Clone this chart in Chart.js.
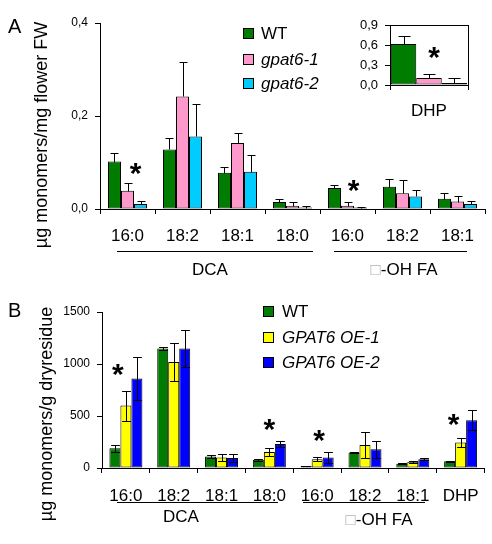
<!DOCTYPE html>
<html lang="en">
<head>
<meta charset="UTF-8" />
<title>GPAT6 cutin monomers</title>
<script src="https://cdn.jsdelivr.net/npm/chart.js@4.4.0/dist/chart.umd.min.js"></script>
<style>
  body { margin: 0; background: #fff; }
  #root { position: relative; width: 492px; height: 544px; }
  canvas { position: absolute; }
</style>
</head>
<body>
<div id="root">
  <canvas id="chartA" width="492" height="280" style="left:0;top:0"></canvas>
  <canvas id="chartB" width="492" height="264" style="left:0;top:280px"></canvas>
  <canvas id="chartInset" width="140" height="110" style="left:340px;top:10px"></canvas>
</div>
<script>
// ---- data ----
const aLabels = ["16:0", "18:2", "18:1", "18:0", "16:0", "18:2", "18:1"];
const aWt     = [0.102, 0.128, 0.078, 0.015, 0.045, 0.048, 0.022];
const aWtErr  = [0.019, 0.025, 0.013, 0.007, 0.007, 0.017, 0.012];
const aG1     = [0.039, 0.242, 0.142, 0.007, 0.007, 0.034, 0.016];
const aG1Err  = [0.017, 0.074, 0.022, 0.008, 0.008, 0.029, 0.011];
const aG2     = [0.011, 0.156, 0.080, 0.003, 0.003, 0.027, 0.011];
const aG2Err  = [0.006, 0.069, 0.037, 0.003, 0.002, 0.013, 0.007];

const insetLabels = ["DHP"];
const insetWt = [0.615], insetWtErr = [0.12];
const insetG1 = [0.105], insetG1Err = [0.06];
const insetG2 = [0.03],  insetG2Err = [0.07];

const bLabels  = ["16:0", "18:2", "18:1", "18:0", "16:0", "18:2", "18:1", "DHP"];
const bWt      = [190, 1150, 110, 80, 20, 150, 40, 65];
const bWtErr   = [35, 15, 15, 8, 4, 8, 5, 5];
const bOe1     = [600, 1020, 100, 155, 85, 220, 60, 245];
const bOe1Err  = [145, 180, 35, 35, 20, 125, 10, 45];
const bOe2     = [860, 1150, 95, 230, 100, 180, 85, 460];
const bOe2Err  = [210, 180, 35, 30, 50, 80, 10, 95];

const GREEN = "#007d00", PINK = "#ff99cc", CYAN = "#00ccff", YELLOW = "#ffff00", BLUE = "#0000ff";
const FONT = "'Liberation Sans', Arial, sans-serif";

// error bars, stars, labels, legends
const extras = {
  id: "extras",
  afterDatasetsDraw(chart, args, o) {
    const ctx = chart.ctx, ys = chart.scales.y;
    ctx.save();
    ctx.strokeStyle = "#000";
    ctx.lineWidth = 1;
    chart.data.datasets.forEach((ds, di) => {
      if (!ds.err) return;
      chart.getDatasetMeta(di).data.forEach((bar, i) => {
        const v = ds.data[i], e = ds.err[i];
        const x = Math.round(bar.x) + 0.5;
        const cap = o.cap != null ? o.cap : bar.width * 0.4;
        const yTop = Math.round(ys.getPixelForValue(v + e)) + 0.5;
        const yBar = Math.round(ys.getPixelForValue(v)) + 0.5;
        const yLow = Math.round(ys.getPixelForValue(Math.max(v - e, 0))) + 0.5;
        ctx.beginPath();
        if (o.errMode === "both") {
          ctx.moveTo(x, yLow); ctx.lineTo(x, yTop);
          ctx.moveTo(x - cap, yLow); ctx.lineTo(x + cap, yLow);
        } else {
          ctx.moveTo(x, yBar); ctx.lineTo(x, yTop);
        }
        ctx.moveTo(x - cap, yTop); ctx.lineTo(x + cap, yTop);
        ctx.stroke();
      });
    });
    ctx.restore();
  },
  afterDraw(chart, args, o) {
    const ctx = chart.ctx, oy = o.oy || 0, ox = o.ox || 0;
    ctx.save();
    if (o.frame) {
      const a = chart.chartArea;
      ctx.strokeStyle = "#000";
      ctx.lineWidth = 1;
      ctx.strokeRect(Math.round(a.left) + 0.5, Math.round(a.top) + 0.5, Math.round(a.right - a.left), Math.round(a.bottom - a.top));
    }
    (o.stars || []).forEach(s => {
      const x = chart.scales.x.getPixelForValue(s.i) + s.dx;
      const y = chart.scales.y.getPixelForValue(s.v);
      ctx.font = "bold 30px " + FONT;
      ctx.fillStyle = "#000";
      ctx.textAlign = "center";
      ctx.textBaseline = "alphabetic";
      ctx.fillText("*", x, y + 17);
    });
    (o.lines || []).forEach(l => {
      ctx.strokeStyle = "#000";
      ctx.lineWidth = 1;
      ctx.beginPath();
      ctx.moveTo(l[0] - ox, l[1] - oy + 0.5);
      ctx.lineTo(l[2] - ox, l[1] - oy + 0.5);
      ctx.stroke();
    });
    (o.boxes || []).forEach(b => {
      ctx.fillStyle = b.c;
      ctx.fillRect(b.x - ox, b.y - oy, 11, 11);
      ctx.strokeStyle = "#000";
      ctx.strokeRect(b.x - ox + 0.5, b.y - oy + 0.5, 10, 10);
    });
    (o.texts || []).forEach(t => {
      ctx.save();
      ctx.font = (t.style || "") + " " + t.size + "px " + FONT;
      ctx.fillStyle = t.color || "#000";
      ctx.textAlign = t.align || "left";
      ctx.textBaseline = "middle";
      ctx.translate(t.x - ox, t.y - oy);
      if (t.rot) ctx.rotate(-Math.PI / 2);
      if (t.omega) {
        // missing-glyph box followed by the rest of the label
        const w1 = ctx.measureText("\u25A1").width;
        const w2 = ctx.measureText(t.t).width;
        ctx.textAlign = "left";
        ctx.fillStyle = "#b0b0b0";
        ctx.fillText("\u25A1", -(w1 + w2) / 2, 0);
        ctx.fillStyle = "#000";
        ctx.fillText(t.t, -(w1 + w2) / 2 + w1, 0);
      } else {
        ctx.fillText(t.t, 0, 0);
      }
      ctx.restore();
    });
    ctx.restore();
  }
};
Chart.register(extras);

const bar = (data, err, color) => ({
  data, err, backgroundColor: color, borderColor: "#000", borderWidth: 1, borderSkipped: false
});

const axisY = (min, max, step, size, fmt, width) => ({
  min, max,
  afterFit: s => { s.width = width; },
  ticks: { stepSize: step, color: "#000", padding: 7, font: { family: FONT, size }, callback: fmt },
  grid: { drawOnChartArea: false, tickLength: 5, color: "#000" },
  border: { color: "#000", width: 1 }
});
const axisX = (height, size, pad) => ({
  afterFit: s => { s.height = height; },
  ticks: { color: "#000", padding: pad, font: { family: FONT, size }, maxRotation: 0, autoSkip: false },
  grid: { offset: true, drawOnChartArea: false, tickLength: 5, color: "#000" },
  border: { color: "#000", width: 1 }
});
const comma = v => v.toFixed(1).replace(".", ",");

const base = {
  responsive: false,
  animation: false,
  devicePixelRatio: 1,
  plugins: { legend: { display: false }, tooltip: { enabled: false } }
};

new Chart(document.getElementById("chartA"), {
  type: "bar",
  data: {
    labels: aLabels,
    datasets: [bar(aWt, aWtErr, GREEN), bar(aG1, aG1Err, PINK), bar(aG2, aG2Err, CYAN)]
  },
  options: {
    ...base,
    layout: { padding: { top: 23, right: 7, left: 0, bottom: 0 } },
    datasets: { bar: { categoryPercentage: 0.71, barPercentage: 1 } },
    scales: { x: axisX(71, 17, 12), y: axisY(0, 0.4, 0.2, 12, comma, 100) },
    plugins: {
      ...base.plugins,
      extras: {
        errMode: "up", cap: 4,
        stars: [{ i: 0, dx: 8, v: 0.093 }, { i: 4, dx: 6, v: 0.056 }],
        lines: [[117, 251, 313], [334, 251, 467]],
        boxes: [{ x: 243, y: 28, c: GREEN }, { x: 243, y: 54, c: PINK }, { x: 243, y: 78, c: CYAN }],
        texts: [
          { t: "A", x: 8, y: 27, size: 20 },
          { t: "\u00b5g monomers/mg flower FW", x: 42, y: 135, size: 18, rot: true, align: "center" },
          { t: "DCA", x: 210, y: 270, size: 17, align: "center" },
          { t: "-OH FA", x: 404, y: 270, size: 17, omega: true },
          { t: "WT", x: 261, y: 34, size: 17 },
          { t: "gpat6-1", x: 261, y: 60, size: 17, style: "italic" },
          { t: "gpat6-2", x: 261, y: 84, size: 17, style: "italic" }
        ]
      }
    }
  }
});

new Chart(document.getElementById("chartInset"), {
  type: "bar",
  data: {
    labels: insetLabels,
    datasets: [bar(insetWt, insetWtErr, GREEN), bar(insetG1, insetG1Err, PINK), bar(insetG2, insetG2Err, CYAN)]
  },
  options: {
    ...base,
    layout: { padding: { top: 15, right: 12, left: 0, bottom: 0 } },
    datasets: { bar: { categoryPercentage: 0.98, barPercentage: 1 } },
    scales: { x: axisX(35, 17, 11), y: axisY(0, 0.9, 0.3, 13, comma, 50) },
    plugins: {
      ...base.plugins,
      extras: { errMode: "up", cap: 6, frame: true, stars: [{ i: 0, dx: 5, v: 0.525 }] }
    }
  }
});

new Chart(document.getElementById("chartB"), {
  type: "bar",
  data: {
    labels: bLabels,
    datasets: [bar(bWt, bWtErr, GREEN), bar(bOe1, bOe1Err, YELLOW), bar(bOe2, bOe2Err, BLUE)]
  },
  options: {
    ...base,
    layout: { padding: { top: 32, right: 7, left: 0, bottom: 0 } },
    datasets: { bar: { categoryPercentage: 0.69, barPercentage: 1 } },
    scales: { x: axisX(76, 17, 13), y: axisY(0, 1500, 500, 12, v => v, 102) },
    plugins: {
      ...base.plugins,
      extras: {
        errMode: "both", oy: 280,
        stars: [{ i: 0, dx: -8, v: 971 }, { i: 3, dx: 0, v: 442 }, { i: 4, dx: 2, v: 337 }, { i: 7, dx: -7, v: 490 }],
        lines: [[117, 502, 278], [303, 502, 425]],
        boxes: [{ x: 263, y: 306, c: GREEN }, { x: 263, y: 332, c: YELLOW }, { x: 263, y: 357, c: BLUE }],
        texts: [
          { t: "B", x: 8, y: 311, size: 20 },
          { t: "\u00b5g monomers/g dryresidue", x: 47, y: 414, size: 18, rot: true, align: "center" },
          { t: "DCA", x: 181, y: 517, size: 17, align: "center" },
          { t: "-OH FA", x: 379, y: 520, size: 17, omega: true },
          { t: "WT", x: 282, y: 312, size: 17 },
          { t: "GPAT6 OE-1", x: 282, y: 338, size: 17, style: "italic" },
          { t: "GPAT6 OE-2", x: 282, y: 363, size: 17, style: "italic" }
        ]
      }
    }
  }
});
</script>
</body>
</html>
